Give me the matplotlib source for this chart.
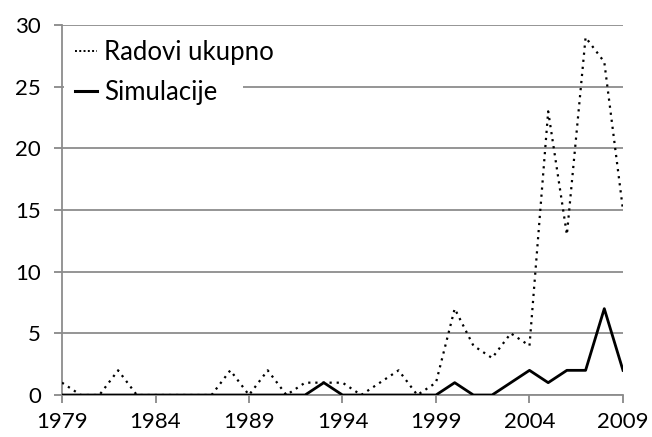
import matplotlib.pyplot as plt
from matplotlib.lines import Line2D
from matplotlib.patches import Rectangle

years = list(range(1979, 2010))
radovi = [1, 0, 0, 2, 0, 0, 0, 0, 0, 2, 0, 2, 0, 1, 1, 1, 0, 1, 2, 0,
          1, 7, 4, 3, 5, 4, 23, 13, 29, 27, 15]
simulacije = [0, 0, 0, 0, 0, 0, 0, 0, 0, 0, 0, 0, 0, 0, 1, 0, 0, 0, 0, 0,
              0, 1, 0, 0, 1, 2, 1, 2, 2, 7, 2]
xticks = [1979, 1984, 1989, 1994, 1999, 2004, 2009]
yticks = [0, 5, 10, 15, 20, 25, 30]

plt.rcParams['font.family'] = ['Lato', 'DejaVu Sans']

fig = plt.figure(figsize=(6.52, 4.37), dpi=100)
ax = fig.add_axes([0.0951, 0.0961, 0.8604, 0.8467])

ax.plot(years, radovi, color='black', linestyle=(0, (1, 2.2)), linewidth=1.6,
        zorder=3)
ax.plot(years, simulacije, color='black', linewidth=2.0, zorder=4)

ax.set_xlim(1979, 2009)
ax.set_ylim(0, 30)
ax.set_xticks(xticks)
ax.set_yticks(yticks)
ax.tick_params(labelsize=16, colors='#888888', labelcolor='black',
               length=6, width=1.3, direction='out')
ax.tick_params(axis='x', pad=6)
ax.tick_params(axis='y', pad=9)
ax.yaxis.grid(True, color='#8c8c8c', linewidth=1.3)
ax.set_axisbelow(True)
for s in ['top', 'right']:
    ax.spines[s].set_visible(False)
for s in ['left', 'bottom']:
    ax.spines[s].set_color('#8c8c8c')
    ax.spines[s].set_linewidth(1.3)

# the legend box in the original only blanks the grid up to about x=243px
ax.add_patch(Rectangle((0.003, 0.80), 0.32, 0.07, transform=ax.transAxes,
                       facecolor='white', edgecolor='none', zorder=2))

# legend handles: the dotted one is drawn denser in the original
handles = [Line2D([], [], color='black', linestyle=(0, (1, 1.2)), linewidth=1.4),
           Line2D([], [], color='black', linewidth=2.2)]
leg = ax.legend(handles, ['Radovi ukupno', 'Simulacije'],
                loc='upper left', bbox_to_anchor=(0.0, 0.995), frameon=False,
                fontsize=18.5, handlelength=0.85, handletextpad=0.3,
                borderpad=0.2, labelspacing=0.6, borderaxespad=0.3)

plt.savefig('out.png', dpi=100)
